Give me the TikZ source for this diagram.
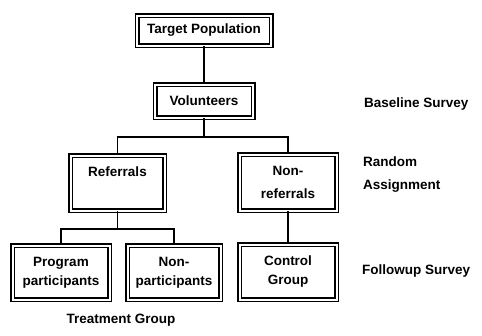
\documentclass[tikz,border=0pt]{standalone}
\usepackage{fontspec}
\setmainfont{Liberation Sans}
\begin{document}
\begin{tikzpicture}[x=1pt,y=-1pt,
  font=\bfseries\fontsize{13.5}{19}\selectfont,
  box/.style={draw, line width=1.5pt, double, double distance=2pt, align=center, inner sep=0pt},
  conn/.style={line width=1.3pt},
  lbl/.style={align=left, anchor=west, inner sep=0pt}]
\useasboundingbox (0,0) rectangle (482,335);
% boxes
\node[box, minimum width=134pt, minimum height=30pt] (target) at (204,30.5) {Target Population};
\node[box, minimum width=98pt, minimum height=33pt] (vol) at (204,101) {Volunteers};
\node[box, minimum width=94pt, minimum height=55pt] (ref) at (117.5,183) {Referrals\\[4pt]\mbox{}};
\node[box, minimum width=97pt, minimum height=56pt] (nonref) at (288,182.5) {Non-\\[4pt]referrals};
\node[box, minimum width=97pt, minimum height=54pt] (prog) at (61,272.5) {Program\\participants};
\node[box, minimum width=93pt, minimum height=54pt] (nonpart) at (174,272.5) {Non-\\participants};
\node[box, minimum width=97pt, minimum height=55pt] (control) at (288,272) {Control\\Group};
% side labels
\node[lbl] (base) at (364,104) {Baseline Survey};
\node[lbl] (rand) at (363,175) {Random\\[4pt]Assignment};
\node[lbl] (follow) at (362,271) {Followup Survey};
\node[inner sep=0pt] (treat) at (121,320) {Treatment Group};
% connectors
\coordinate (b1) at (vol.south |- 0,137);
\coordinate (b2) at (ref.south |- 0,229);
\draw[conn] (target.south) -- (vol.north);
\draw[conn] (vol.south) -- (b1);
\draw[conn] (ref.north) |- (b1) -| (nonref.north);
\draw[conn] (ref.south) -- (b2);
\draw[conn] (prog.north) |- (b2) -| (nonpart.north);
\draw[conn] (nonref.south) -- (control.north);
\end{tikzpicture}
\end{document}
